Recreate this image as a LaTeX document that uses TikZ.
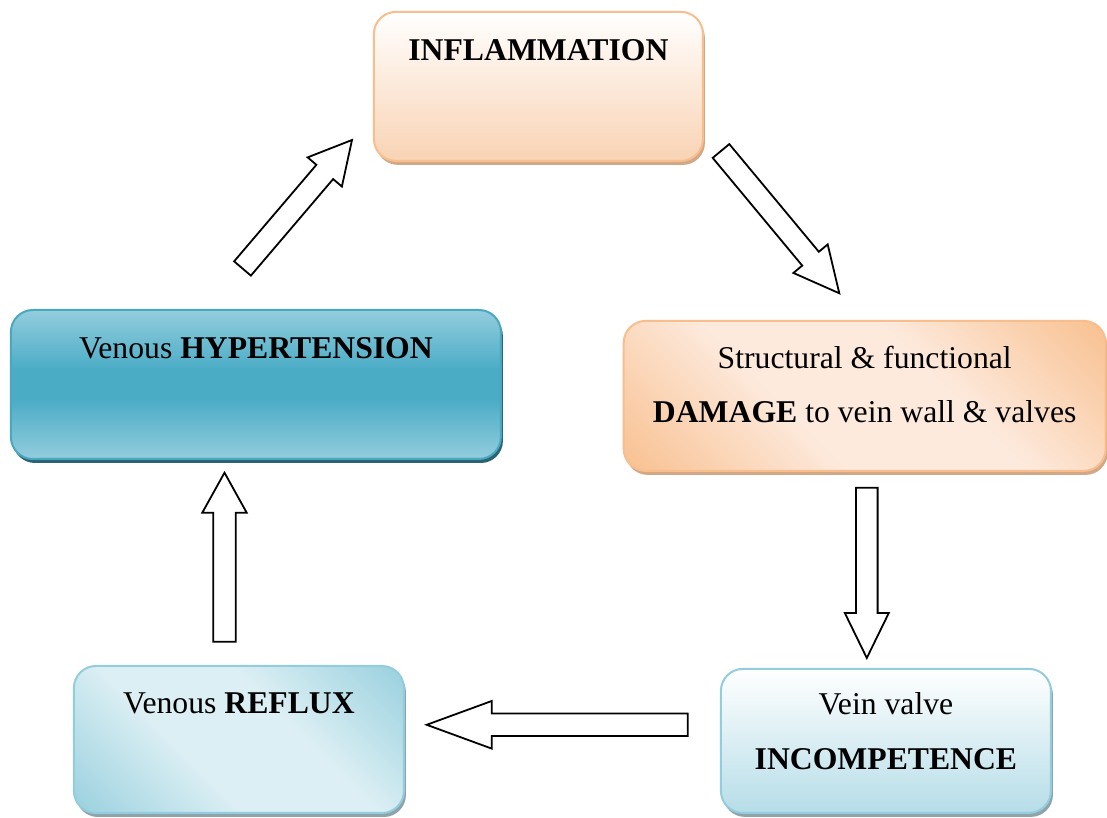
\documentclass[tikz,border=0pt]{standalone}
\usepackage{fontspec}
\setmainfont{Liberation Serif}
\usetikzlibrary{calc,shadows}

\definecolor{infTop}{HTML}{FFFFFF}
\definecolor{infBot}{HTML}{F9D3B4}
\definecolor{infLine}{HTML}{F8BE8E}
\definecolor{infShadow}{HTML}{D2A887}
\definecolor{damDark}{HTML}{F8BC88}
\definecolor{damLight}{HTML}{FDEADD}
\definecolor{hypLight}{HTML}{93CDDD}
\definecolor{hypDark}{HTML}{4BACC6}
\definecolor{hypLine}{HTML}{4AA7C0}
\definecolor{hypShadow}{HTML}{2A6474}
\definecolor{refDark}{HTML}{92CDDC}
\definecolor{refLight}{HTML}{DCEFF4}
\definecolor{blueLine}{HTML}{93CDDD}
\definecolor{blueShadow}{HTML}{8FA3AA}
\definecolor{incBot}{HTML}{B6DDE8}

\pgfdeclareverticalshading{damshade}{100bp}{color(0bp)=(damDark); color(12bp)=(damDark); color(40bp)=(damLight); color(60bp)=(damLight); color(88bp)=(damDark); color(100bp)=(damDark)}
\pgfdeclareverticalshading{refshade}{100bp}{color(0bp)=(refDark); color(12bp)=(refDark); color(40bp)=(refLight); color(60bp)=(refLight); color(88bp)=(refDark); color(100bp)=(refDark)}
\pgfdeclareverticalshading{hypshade}{100bp}{color(0bp)=(hypLight); color(25bp)=(hypLight); color(45bp)=(hypDark); color(55bp)=(hypDark); color(75bp)=(hypLight); color(100bp)=(hypLight)}

\tikzset{
  box/.style={rectangle, rounded corners=22pt, line width=2pt, inner sep=0pt, outer sep=0pt},
  lbl/.style={font=\fontsize{31.7}{38}\selectfont, inner sep=0pt, anchor=base},
  barrow/.style={draw=black, line width=1.8pt, fill=white, line join=miter},
}

% block arrow: #1 tail centre, #2 tip, #3 half shaft width, #4 half head width, #5 head length
\newcommand\blockarrow[5]{%
  \path ($(#2)!#5!(#1)$) coordinate (#1H);
  \draw[barrow]
    ($(#1)!#3!90:(#2)$) --
    ($(#1H)!#3!90:(#2)$) --
    ($(#1H)!#4!90:(#2)$) --
    (#2) --
    ($(#1H)!#4!-90:(#2)$) --
    ($(#1H)!#3!-90:(#2)$) --
    ($(#1)!#3!-90:(#2)$) -- cycle;
}

\begin{document}
\begin{tikzpicture}[x=1pt,y=1pt]
\useasboundingbox (0,0) rectangle (1107,818);

% boxes
\node[box, draw=infLine, top color=infTop, bottom color=infBot,
      drop shadow={shadow xshift=2pt, shadow yshift=-4pt, fill=infShadow, opacity=1},
      minimum width=329pt, minimum height=149pt] (inf) at (538.4,731.6) {};
\node[box, draw=infLine, shade, shading=damshade, shading angle=-45,
      drop shadow={shadow xshift=2pt, shadow yshift=-4pt, fill=infShadow, opacity=1},
      minimum width=482pt, minimum height=150pt] (dam) at (864.7,422.1) {};
\node[box, draw=hypLine, shade, shading=hypshade,
      drop shadow={shadow xshift=2pt, shadow yshift=-4pt, fill=hypShadow, opacity=1},
      minimum width=490pt, minimum height=149pt] (hyp) at (255.9,433.5) {};
\node[box, draw=blueLine, shade, shading=refshade, shading angle=-45,
      drop shadow={shadow xshift=2pt, shadow yshift=-4pt, fill=blueShadow, opacity=1},
      minimum width=330pt, minimum height=147pt] (ref) at (238.9,78.5) {};
\node[box, draw=blueLine, top color=white, bottom color=incBot,
      drop shadow={shadow xshift=2pt, shadow yshift=-4pt, fill=blueShadow, opacity=1},
      minimum width=330pt, minimum height=144pt] (inc) at (885.9,77.1) {};

% texts
\node[lbl] (infT) at ($(inf.north)+(0,-49)$) {\textbf{INFLAMMATION}};
\node[lbl] (damT1) at ($(dam.north)+(0,-48)$) {Structural \& functional};
\node[lbl] (damT2) at ($(dam.north)+(0,-101.7)$) {\textbf{DAMAGE} to vein wall \& valves};
\node[lbl] (hypT) at ($(hyp.north)+(0,-48.7)$) {Venous \textbf{HYPERTENSION}};
\node[lbl] (refT) at ($(ref.north)+(0,-48)$) {Venous \textbf{REFLUX}};
\node[lbl] (incT1) at ($(inc.north)+(0,-45.6)$) {Vein valve};
\node[lbl] (incT2) at ($(inc.north)+(0,-100.6)$) {\textbf{INCOMPETENCE}};

% arrow end points
\coordinate (a1s) at (242.5,549.5); \coordinate (a1e) at (352,678);
\coordinate (a2s) at (721,667);     \coordinate (a2e) at (839.3,524.7);
\coordinate (a3s) at (866.8,330.3); \coordinate (a3e) at (866.8,160);
\coordinate (a4s) at (224.5,176.3); \coordinate (a4e) at (224.5,345.3);
\coordinate (a5s) at (687.7,93.2);  \coordinate (a5e) at (426.7,93.2);

\blockarrow{a1s}{a1e}{11pt}{22.5pt}{42pt}
\blockarrow{a2s}{a2e}{10.8pt}{22.3pt}{45pt}
\blockarrow{a3s}{a3e}{10.8pt}{22pt}{45pt}
\blockarrow{a4s}{a4e}{11.2pt}{22.2pt}{40pt}
\blockarrow{a5s}{a5e}{11.3pt}{23.8pt}{65pt}
\end{tikzpicture}
\end{document}
